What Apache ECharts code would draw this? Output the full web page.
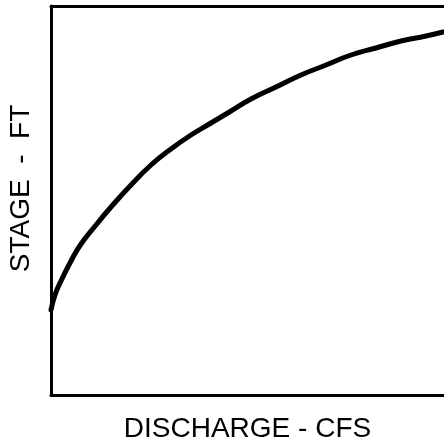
<!DOCTYPE html>
<html>
<head>
<meta charset="utf-8">
<script src="https://cdn.jsdelivr.net/npm/echarts@6/dist/echarts.min.js"></script>
<style>
  html, body { margin: 0; padding: 0; background: #fff; }
  #chart { width: 444px; height: 443px; }
</style>
</head>
<body>
<div id="chart"></div>
<script>
// Stage-discharge rating curve (relative units, no scale shown)
const discharge = [0, 4, 10, 20, 30, 45, 60, 80, 100, 120, 140, 160, 180, 200, 225, 250, 275, 300, 325, 350, 375, 392];
const stage     = [85, 100, 114, 134, 151, 170, 188, 210, 230, 246, 260, 272, 284, 296, 308, 320, 330, 340, 347, 354, 359, 363];

const xAxisTitle = 'DISCHARGE - CFS';
const yAxisTitle = 'STAGE  -  FT';

const curve = discharge.map((q, i) => [q, stage[i]]);

const frameLine = { show: true, lineStyle: { color: '#000', width: 3 } };
const hidden = { show: false };

const chart = echarts.init(document.getElementById('chart'), null, { renderer: 'canvas' });
chart.setOption({
  animation: false,
  backgroundColor: '#ffffff',
  grid: { left: 51, top: 6, bottom: 48, right: 0, outerBoundsMode: 'none', containLabel: false },
  xAxis: [{
    type: 'value',
    position: 'bottom',
    min: 0, max: 393,
    name: xAxisTitle,
    nameLocation: 'middle',
    nameGap: 20,
    nameTextStyle: { color: '#000', fontFamily: 'Liberation Sans', fontSize: 28, verticalAlign: 'top' },
    axisLine: frameLine,
    axisTick: hidden,
    axisLabel: hidden,
    splitLine: hidden
  }, {
    type: 'value',
    position: 'top',
    min: 0, max: 393,
    axisLine: frameLine,
    axisTick: hidden,
    axisLabel: hidden,
    splitLine: hidden
  }],
  yAxis: {
    type: 'value',
    min: 0, max: 389,
    name: yAxisTitle,
    nameLocation: 'middle',
    nameGap: 16,
    nameRotate: 90,
    nameTextStyle: {
      color: '#000', fontFamily: 'Liberation Sans', fontSize: 28,
      verticalAlign: 'bottom', padding: [0, 0, 0, 24]
    },
    axisLine: frameLine,
    axisTick: hidden,
    axisLabel: hidden,
    splitLine: hidden
  },
  series: [{
    type: 'line',
    data: curve,
    smooth: true,
    showSymbol: false,
    clip: false,
    lineStyle: { color: '#000', width: 5, cap: 'round' }
  }]
});
</script>
</body>
</html>
